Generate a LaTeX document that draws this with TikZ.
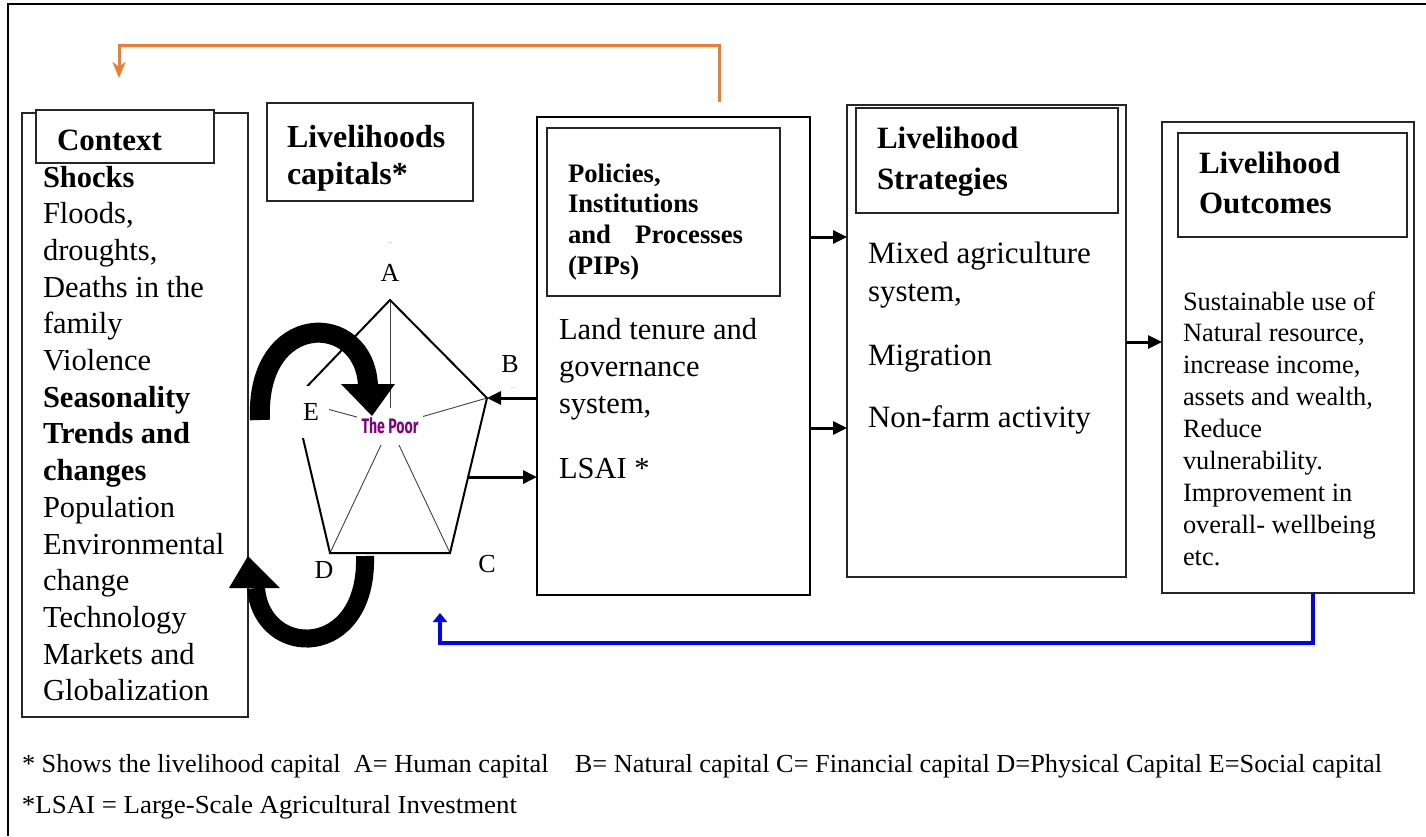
\documentclass[tikz,border=0pt]{standalone}
\usepackage{fontspec}
\setmainfont{Liberation Serif}
\newfontfamily\poorfont{Fira Sans}
\usepackage{graphicx}
\usetikzlibrary{arrows.meta,calc}
\definecolor{orangeA}{RGB}{237,125,49}
\definecolor{blueA}{RGB}{0,0,255}
\definecolor{poorpurple}{RGB}{128,0,128}
\newcommand{\tblock}[4]{\parbox[t]{#1pt}{\fontsize{#2}{#3}\selectfont #4}}
\begin{document}
\begin{tikzpicture}[x=1pt,y=-1pt,
  boxs/.style={draw=black!85, line width=1.3pt, fill=white, anchor=north west, inner sep=0, outer sep=0},
  txt/.style={anchor=base west, inner sep=0, outer sep=0},
  arr/.style={line width=3pt, -{Triangle[length=14pt,width=13pt]}},
  pentedge/.style={line width=2pt, line join=miter},
  spoke/.style={line width=0.9pt, black!75},
  lbl/.style={font=\fontsize{26}{26}\selectfont, inner sep=0},
]
\useasboundingbox (0,0) rectangle (1426,836);
\fill[white] (0,0) rectangle (1426,836);
% outer frame
\coordinate (fr1) at (8,836);
\coordinate (fr2) at (8,4);
\coordinate (fr3) at (1426,4);
\draw[line width=1.3pt] (fr1) -- (fr2) -- (fr3);

% Context
\node[boxs, minimum width=226, minimum height=604] (ctxbox) at (22,113) {};
\node[boxs, minimum width=178, minimum height=53] (ctxhead) at (36,110) {};
\node[txt, font=\bfseries\fontsize{31}{36}\selectfont] (ctxtitle) at (57,150) {Context};
\node[txt] (ctxtext) at (43,187) {\tblock{210}{30.5}{36.7}{\textbf{Shocks}\\Floods,\\droughts,\\Deaths in the\\family\\Violence\\\textbf{Seasonality}\\\textbf{Trends and}\\\textbf{changes}\\Population\\Environmental\\change\\Technology\\Markets and\\Globalization}};

% Livelihoods capitals
\node[boxs, minimum width=206, minimum height=98] (capbox) at (267,103) {};
\node[txt] (captitle) at (287,147) {\tblock{200}{32}{37}{\bfseries Livelihoods\\capitals*}};

% PIPs
\node[boxs, draw=black, line width=2.5pt, minimum width=273, minimum height=478] (pipsbox) at (537,117) {};
\node[boxs, minimum width=233, minimum height=168] (pipshead) at (547,128) {};
\node[txt] (pipstitle) at (568,182) {\tblock{175}{26.7}{30.7}{\bfseries Policies,\\Institutions\\and\hfill Processes\\(PIPs)}};
\node[txt] (pipstext) at (559,339) {\tblock{240}{30.5}{37}{Land tenure and\\governance\\system,\\[28pt]LSAI *}};

% Strategies
\node[boxs, minimum width=279, minimum height=472] (stratbox) at (847,105) {};
\node[boxs, minimum width=262, minimum height=105] (strathead) at (856,108) {};
\node[txt] (strattitle) at (877,148) {\tblock{230}{31}{41}{\bfseries Livelihood\\Strategies}};
\node[txt] (strattext) at (868,263) {\tblock{250}{31}{38.5}{Mixed agriculture\\system,\\[25pt]Migration\\[23.5pt]Non-farm activity}};

% Outcomes
\node[boxs, minimum width=252, minimum height=471] (outbox) at (1162,122) {};
\node[boxs, minimum width=229, minimum height=104] (outhead) at (1178,133) {};
\node[txt] (outtitle) at (1199,173) {\tblock{200}{31}{40}{\bfseries Livelihood\\Outcomes}};
\node[txt] (outtext) at (1183,310) {\tblock{230}{26.4}{31.9}{Sustainable use of\\Natural resource,\\increase income,\\assets and wealth,\\Reduce\\vulnerability.\\Improvement in\\overall- wellbeing\\etc.}};

% Footnotes
\node[txt] (fn1) at (22,772) {\resizebox{1360pt}{\height}{\fontsize{26}{26}\selectfont *\ Shows the livelihood capital\ \ A= Human capital\ \ \ \ B= Natural capital C= Financial capital D=Physical Capital E=Social capital}};
\node[txt] (fn2) at (22,813) {\resizebox{495pt}{\height}{\fontsize{26}{26}\selectfont *LSAI = Large-Scale Agricultural Investment}};

% Pentagon
\coordinate (A) at (390,300);
\coordinate (B) at (487,398);
\coordinate (C) at (450,553);
\coordinate (D) at (330,553);
\coordinate (E) at (294,400);
\coordinate (P) at (390,426);
\draw[spoke] (P) -- (A);
\draw[spoke] (P) -- (B);
\draw[spoke] (P) -- (C);
\draw[spoke] (P) -- (D);
\draw[spoke] (P) -- (E);
\draw[pentedge] (A) -- (B) -- (C) -- (D) -- (E) -- cycle;
\node[fill=white, inner sep=0, minimum width=66, minimum height=37, text=poorpurple] (poor) at (P) {\resizebox{57pt}{\height}{\poorfont\bfseries\fontsize{21}{21}\selectfont The Poor}};
\node[lbl] (lA) at (390,273) {A};
\node[lbl] (lB) at (510,364) {B};
\node[lbl] (lC) at (487,564) {C};
\node[lbl] (lD) at (324,570) {D};
\node[lbl, fill=white, minimum width=36, minimum height=52] (lE) at (311,412) {E};
\node[font=\fontsize{8}{8}\selectfont, text=magenta!60, inner sep=0] (dotA) at (390,243) {..};
\node[font=\fontsize{8}{8}\selectfont, text=magenta!60, inner sep=0] (dotB) at (513,388) {..};

% arrows PIPs <-> pentagon
\draw[arr] (pipsbox.west |- B) -- (B);
\coordinate (Cfrom) at ($(B)!0.51!(C)$);
\draw[arr] (Cfrom) -- (pipsbox.west |- Cfrom);

% arrows between boxes
\coordinate (y1) at (0,237);
\coordinate (y2) at (0,428);
\coordinate (y3) at (0,342);
\draw[arr] (pipsbox.east |- y1) -- (stratbox.west |- y1);
\draw[arr] (pipsbox.east |- y2) -- (stratbox.west |- y2);
\draw[arr] (stratbox.east |- y3) -- (outbox.west |- y3);

% big curved arrows
\draw[line width=20pt] (260,420) .. controls (255,310) and (365,310) .. (368,386);
\fill (341,384) -- (395,384) -- (372,416) -- cycle;
\draw[line width=18pt] (365,556) .. controls (368,660) and (262,660) .. (256,588);
\fill (229,588) -- (280,588) -- (248,556) -- cycle;

% orange feedback
\coordinate (o1) at (719,102);
\coordinate (o2) at (119,78);
\coordinate (ot) at (0,45);
\draw[orangeA, line width=3pt, -{Stealth[length=16pt,width=13pt,inset=5pt]}] (o1) -- (o1 |- ot) -- (o2 |- ot) -- (o2);

% blue feedback
\coordinate (b1) at (1313,593);
\coordinate (b2) at (440,613);
\coordinate (bb) at (0,643);
\draw[blueA, line width=4pt, -{Triangle[length=9pt,width=14pt]}] (outbox.south -| b1) -- (b1 |- bb) -- (b2 |- bb) -- (b2);
\end{tikzpicture}
\end{document}
